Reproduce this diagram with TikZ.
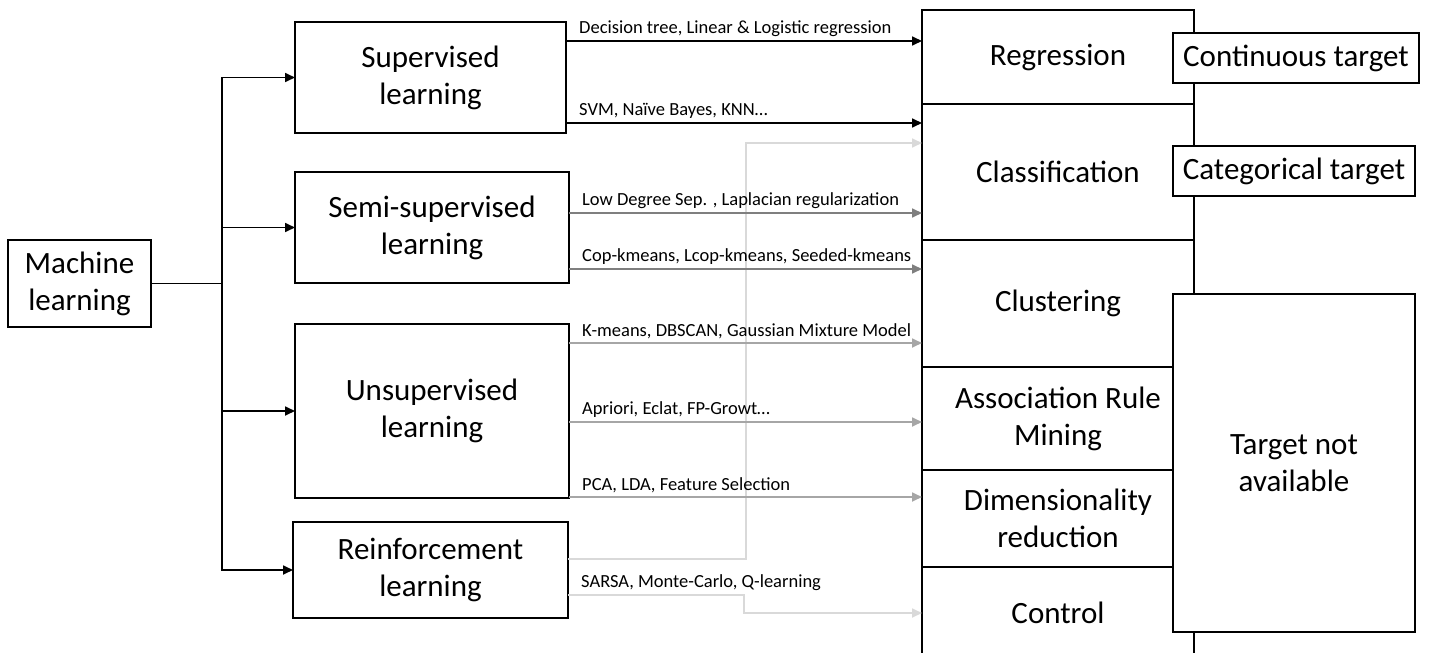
\documentclass[tikz,border=0pt]{standalone}
\usepackage{fontspec}
\setmainfont{Carlito}
\usetikzlibrary{positioning, arrows.meta}
\definecolor{semigray}{HTML}{7f7f7f}
\definecolor{unsupgray}{HTML}{a6a6a6}
\definecolor{reinfgray}{HTML}{d9d9d9}
\tikzstyle{learner} = [rectangle, draw=black, line width=1.7pt, outer sep=0pt, align=center, font=\fontsize{31}{37}\selectfont]
\tikzstyle{task} = [learner, minimum width=272pt]
\tikzstyle{target} = [learner, fill=white]
\tikzstyle{arrow} = [line width=1.7pt, -{Triangle[length=10pt,width=9pt]}]
\tikzstyle{algo} = [above right, xshift=9pt, font=\fontsize{18.5}{22}\selectfont, text=black]

\begin{document}
\begin{tikzpicture}[x=1pt, y=-1pt]
    \clip (0,0) rectangle (1435,653);
    \node (ml) [learner, minimum width=143pt, minimum height=87pt] at (79.5,283.5) {Machine\\learning};
    \node (sup) [learner, minimum width=271pt, minimum height=111pt] at (430.5,77.5) {Supervised\\learning};
    \node (semi) [learner, minimum width=274pt, minimum height=111pt] at (432,227.5) {Semi-supervised\\learning};
    \node (unsup) [learner, minimum width=274pt, minimum height=174pt] at (432,411) {Unsupervised\\learning};
    \node (reinf) [learner, minimum width=275pt, minimum height=96pt] at (430.5,570) {Reinforcement\\learning};

    \node (reg) [task, minimum height=94pt] at (1058,57) {Regression};
    \node (cls) [task, minimum height=136pt] at (1058,172) {Classification};
    \node (clu) [task, minimum height=127pt] at (1058,303.5) {Clustering};
    \node (arm) [task, minimum height=103pt] at (1058,418.5) {Association Rule\\Mining};
    \node (dim) [task, minimum height=97pt] at (1058,518.5) {Dimensionality\\reduction};
    \node (ctl) [task, minimum height=92pt] at (1058,613) {Control};

    \node (cont) [target, minimum width=246pt, minimum height=50pt] at (1296,58) {Continuous target};
    \node (cat) [target, minimum width=242pt, minimum height=50pt] at (1294,171) {Categorical target};
    \node (nat) [target, minimum width=242pt, minimum height=338pt] at (1294,463) {Target not\\available};

    \draw[arrow] (ml.east) -- ++(71,0) |- (sup.west);
    \draw[arrow] (ml.east) -- ++(71,0) |- (semi.west);
    \draw[arrow] (ml.east) -- ++(71,0) |- (unsup.west);
    \draw[arrow] (ml.east) -- ++(71,0) |- (reinf.west);

    \draw[arrow, reinfgray] ([yshift=11pt]reinf.east) -- ++(178,0) |- ([yshift=29pt]cls.west);
    \draw[arrow, reinfgray] ([yshift=-25pt]reinf.east) node[algo]{SARSA, Monte-Carlo, Q-learning} -- ++(176,0) |- (ctl.west);

    \draw[arrow] ([yshift=36.5pt]sup.east) node[algo]{Decision tree, Linear \& Logistic regression} -- ([yshift=36.5pt]sup.east -| reg.west);
    \draw[arrow] ([yshift=-45.5pt]sup.east) node[algo]{SVM, Naïve Bayes, KNN…} -- ([yshift=-45.5pt]sup.east -| cls.west);
    \draw[arrow, semigray] ([yshift=14.5pt]semi.east) node[algo]{Low Degree Sep. , Laplacian regularization} -- ([yshift=14.5pt]semi.east -| cls.west);
    \draw[arrow, semigray] ([yshift=-41.5pt]semi.east) node[algo]{Cop-kmeans, Lcop-kmeans, Seeded-kmeans} -- ([yshift=-41.5pt]semi.east -| clu.west);
    \draw[arrow, unsupgray] ([yshift=68pt]unsup.east) node[algo]{K-means, DBSCAN, Gaussian Mixture Model} -- ([yshift=68pt]unsup.east -| clu.west);
    \draw[arrow, unsupgray] ([yshift=-11pt]unsup.east) node[algo]{Apriori, Eclat, FP-Growt…} -- ([yshift=-11pt]unsup.east -| arm.west);
    \draw[arrow, unsupgray] ([yshift=-86pt]unsup.east) node[algo]{PCA, LDA, Feature Selection} -- ([yshift=-86pt]unsup.east -| dim.west);
\end{tikzpicture}
\end{document}
